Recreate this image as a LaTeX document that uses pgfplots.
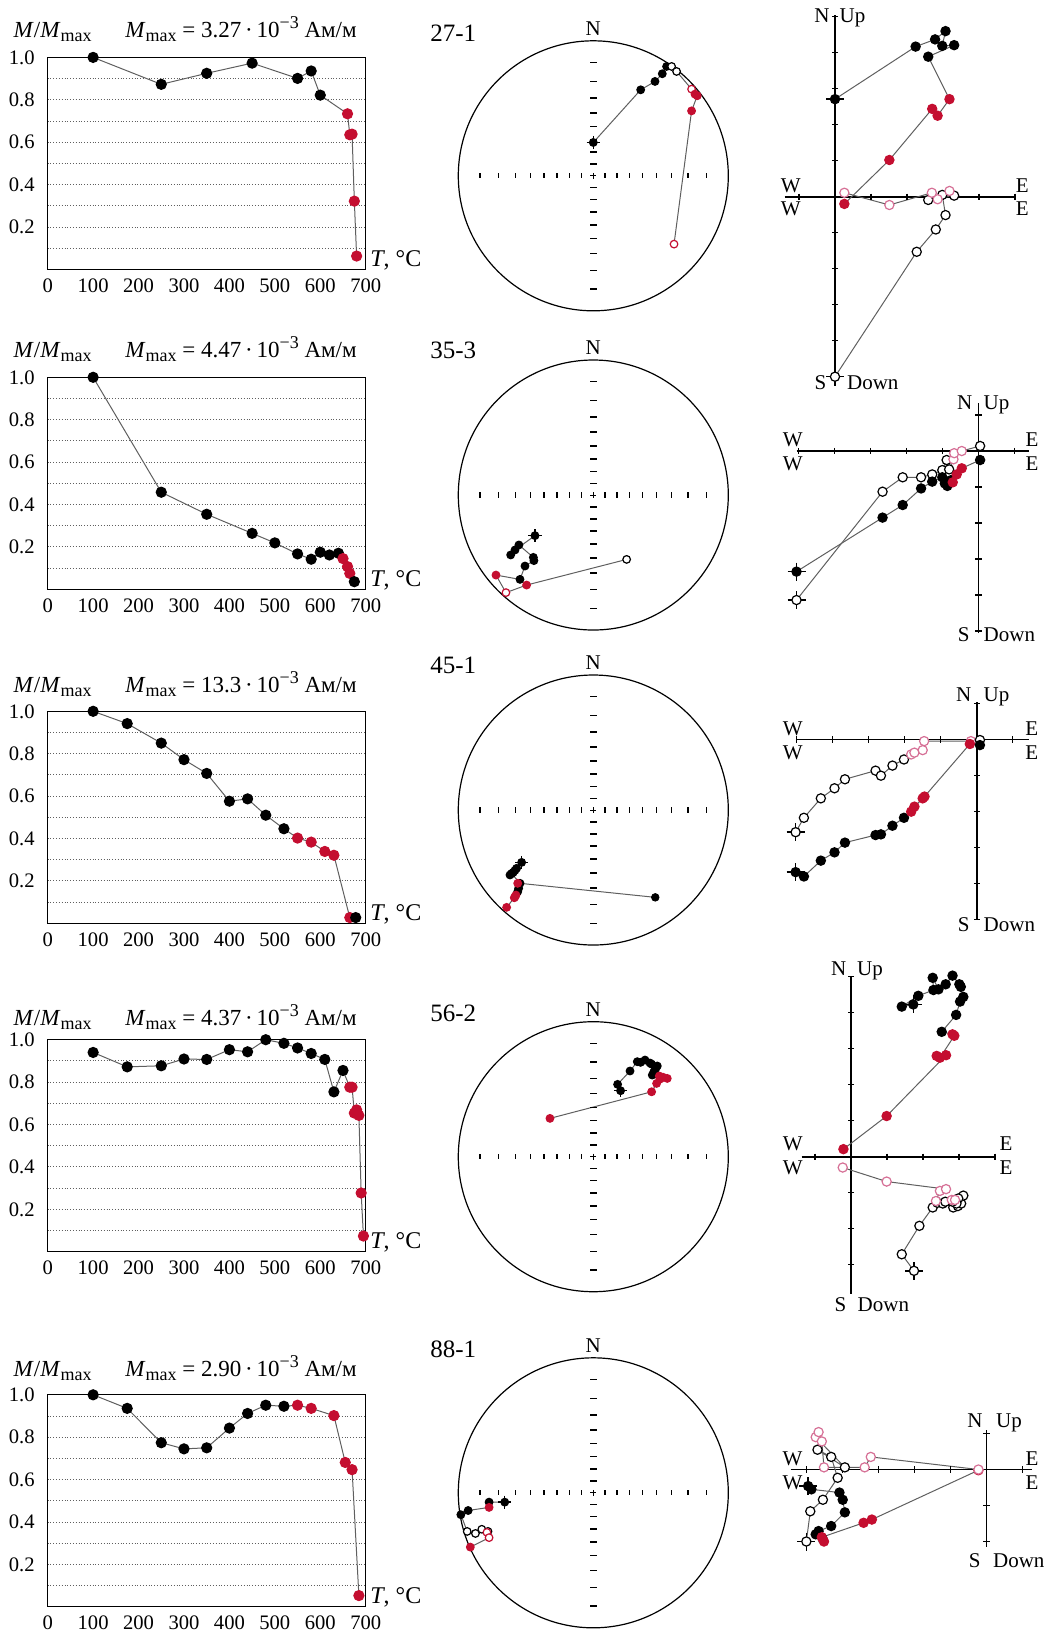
\documentclass[border=0pt]{standalone}
\usepackage{fontspec}
\setmainfont{Liberation Serif}
\usepackage{pgfplots}
\pgfplotsset{compat=1.18}

\definecolor{rd}{RGB}{196,14,48}
\definecolor{pk}{RGB}{214,112,150}
\definecolor{ln}{RGB}{95,95,95}
\newcommand\fz[1]{\fontsize{#1}{#1}\selectfont}
\newcommand\Mmax{\textit{M}\raisebox{-2pt}{\fz{9}max}}

\pgfplotsset{
  pts/.style={color=ln, line width=0.5pt, scatter, mark=*, scatter src=explicit symbolic,
    mark options={line width=0.6pt},
    scatter/classes={
      b={draw=black,fill=black},
      r={draw=rd,fill=rd},
      o={draw=black,fill=white},
      p={draw=pk,fill=white},
      q={draw=rd,fill=white}}},
  cross/.style={only marks, black, mark=+, mark size=#1, mark options={line width=0.7pt}},
  tk/.style={only marks, black, mark=#1, mark size=1.6pt, mark options={line width=0.6pt}},
  demag/.style={anchor=south west, scale only axis, width=159pt, height=106pt,
    xmin=0, xmax=700, ymin=0, ymax=1, clip=false,
    xtick={0,100,...,700}, ytick={0.2,0.4,0.6,0.8,1.0}, minor ytick={0.1,0.3,0.5,0.7,0.9},
    ymajorgrids, yminorgrids,
    major grid style={densely dotted, ln, line width=0.5pt},
    minor grid style={densely dotted, ln, line width=0.5pt},
    major tick length=0pt, minor tick length=0pt,
    axis line style={line width=0.6pt},
    /pgf/number format/assume math mode=true,
    tick label style={font=\fz{10.3}},
    yticklabel style={/pgf/number format/fixed, /pgf/number format/fixed zerofill,
      /pgf/number format/precision=1, xshift=-3pt},
    xticklabel style={yshift=-1pt},
    every axis plot/.append style={mark size=2.5pt}},
  net/.style={anchor=south west, scale only axis, width=135pt, height=135pt,
    xmin=-1, xmax=1, ymin=-1, ymax=1, hide axis, clip=false,
    every axis plot/.append style={mark size=1.9pt}},
  zij/.style={anchor=south west, scale only axis, hide axis, clip=false,
    every axis plot/.append style={mark size=2.3pt}},
}

% stereographic net: circle, 10-degree ticks on both diameters
\newcommand\netframe{%
  \draw[line width=0.6pt] (axis cs:0,0) circle[radius=67.5pt];
  \addplot[only marks, black, mark=|, mark size=1.3pt, mark options={line width=0.7pt}] coordinates {
    (-0.8391,0)(-0.7002,0)(-0.5774,0)(-0.4663,0)(-0.3640,0)(-0.2679,0)(-0.1763,0)(-0.0875,0)
    (0.0875,0)(0.1763,0)(0.2679,0)(0.3640,0)(0.4663,0)(0.5774,0)(0.7002,0)(0.8391,0)};
  \addplot[only marks, black, mark=-, mark size=1.7pt, mark options={line width=0.7pt}] coordinates {
    (0,-0.8391)(0,-0.7002)(0,-0.5774)(0,-0.4663)(0,-0.3640)(0,-0.2679)(0,-0.1763)(0,-0.0875)
    (0,0.0875)(0,0.1763)(0,0.2679)(0,0.3640)(0,0.4663)(0,0.5774)(0,0.7002)(0,0.8391)};
  \addplot[only marks, black, mark=+, mark size=1.5pt, mark options={line width=0.5pt}] coordinates {(0,0)};
}
\tikzset{axln/.style={line width=0.8pt, black}}

\begin{document}
\begin{tikzpicture}
\path[use as bounding box] (0,0) rectangle (525pt,-817.5pt);

%================ 27-1 ================
\begin{axis}[demag, at={(23.85pt,-134.7pt)}]
\addplot[pts] table[meta=c, row sep=\\] {
x y c\\ 100 1.000 b\\ 250 0.873 b\\ 350 0.925 b\\ 450 0.973 b\\ 550 0.901 b\\ 580 0.936 b\\
600 0.822 b\\ 660 0.734 r\\ 665 0.635 r\\ 670 0.638 r\\ 675 0.322 r\\ 680 0.063 r\\};
\end{axis}

\begin{axis}[net, at={(229.15pt,-155.4pt)}]
\netframe
\addplot[cross=3.3pt] coordinates {(0,0.247)};
\addplot[pts] table[meta=c, row sep=\\] {
x y c\\ 0 0.247 b\\ 0.351 0.637 b\\ 0.457 0.699 b\\ 0.511 0.756 b\\ 0.543 0.810 b\\
0.580 0.810 o\\ 0.617 0.773 o\\ 0.728 0.642 q\\ 0.753 0.605 r\\ 0.770 0.593 r\\
0.728 0.481 r\\ 0.598 -0.506 q\\};
\end{axis}

\begin{axis}[zij, at={(392.3pt,-188.35pt)}, xmin=-1.4, xmax=5, ymin=-5, ymax=5.05,
  width=115.2pt, height=180.9pt]
\draw[axln] (axis cs:-1.4,0) -- (axis cs:5,0);
\draw[axln] (axis cs:0,-5) -- (axis cs:0,5.05);
\addplot[tk=|] coordinates {(-1,0)(1,0)(2,0)(3,0)(4,0)(5,0)};
\addplot[tk=-] coordinates {(0,-5)(0,-4)(0,-3)(0,-2)(0,-1)(0,1)(0,2)(0,3)(0,4)(0,5)};
\addplot[cross=4.5pt] coordinates {(0,2.71)};
\addplot[cross=4.5pt] coordinates {(0,-5)};
\addplot[pts] table[meta=c, row sep=\\] {
x y c\\ 0 -5 o\\ 2.27 -1.53 o\\ 2.80 -0.91 o\\ 3.07 -0.51 o\\ 2.98 0.05 o\\ 3.31 0.03 o\\
2.59 -0.09 o\\ 3.18 0.16 p\\ 2.85 -0.07 p\\ 2.69 0.11 p\\ 1.51 -0.23 p\\ 0.26 0.11 p\\};
\addplot[pts] table[meta=c, row sep=\\] {
x y c\\ 0 2.71 b\\ 2.24 4.17 b\\ 2.78 4.37 b\\ 3.07 4.60 b\\ 2.98 4.19 b\\ 3.31 4.21 b\\
2.59 3.89 b\\ 3.18 2.71 r\\ 2.85 2.25 r\\ 2.70 2.44 r\\ 1.51 1.02 r\\ 0.26 -0.20 r\\};
\end{axis}

%================ 35-3 ================
\begin{axis}[demag, at={(23.85pt,-294.65pt)}]
\addplot[pts] table[meta=c, row sep=\\] {
x y c\\ 100 1.000 b\\ 250 0.458 b\\ 350 0.354 b\\ 450 0.264 b\\ 500 0.219 b\\ 550 0.167 b\\
580 0.142 b\\ 600 0.175 b\\ 620 0.162 b\\ 640 0.170 b\\ 650 0.145 r\\ 660 0.107 r\\
665 0.075 r\\ 675 0.036 b\\};
\end{axis}

\begin{axis}[net, at={(229.15pt,-315pt)}]
\netframe
\addplot[cross=3.3pt] coordinates {(-0.432,-0.301)};
\addplot[pts] table[meta=c, row sep=\\] {
x y c\\ -0.432 -0.301 b\\ -0.580 -0.407 b\\ -0.612 -0.444 b\\ -0.551 -0.370 b\\
-0.444 -0.462 b\\ -0.440 -0.486 b\\ -0.506 -0.526 b\\ -0.543 -0.625 b\\
-0.721 -0.593 r\\ -0.647 -0.723 q\\ -0.494 -0.667 r\\ 0.247 -0.477 o\\};
\end{axis}

\begin{axis}[zij, at={(398.25pt,-316.58pt)}, xmin=-5.05, xmax=1.4, ymin=-5.06, ymax=1.32,
  width=116.1pt, height=114.84pt]
\draw[axln] (axis cs:-5.05,0) -- (axis cs:1.4,0);
\draw[axln] (axis cs:0,-5.06) -- (axis cs:0,1.32);
\addplot[tk=|] coordinates {(-5,0)(-4,0)(-3,0)(-2,0)(-1,0)(1,0)};
\addplot[tk=-] coordinates {(0,-5)(0,-4)(0,-3)(0,-2)(0,-1)(0,1)};
\addplot[cross=4.5pt] coordinates {(-5.05,-3.35)};
\addplot[cross=4.5pt] coordinates {(-5.05,-4.14)};
\addplot[pts] table[meta=c, row sep=\\] {
x y c\\ -5.05 -4.14 o\\ -2.66 -1.13 o\\ -2.10 -0.73 o\\ -1.59 -0.73 o\\ -1.28 -0.65 o\\
-1.00 -0.53 o\\ -0.88 -0.25 o\\ -0.81 -0.51 o\\ -0.69 -0.23 p\\ -0.67 -0.06 p\\
-0.46 0.00 p\\ 0.05 0.14 o\\};
\addplot[pts] table[meta=c, row sep=\\] {
x y c\\ -5.05 -3.35 b\\ -2.66 -1.85 b\\ -2.10 -1.50 b\\ -1.59 -1.04 b\\ -1.28 -0.85 b\\
-1.00 -0.73 b\\ -0.93 -0.90 b\\ -0.86 -0.97 b\\ -0.76 -0.81 b\\ -0.71 -0.87 r\\
-0.60 -0.65 r\\ -0.46 -0.48 r\\ 0.05 -0.25 b\\};
\end{axis}

%================ 45-1 ================
\begin{axis}[demag, at={(23.85pt,-461.65pt)}]
\addplot[pts] table[meta=c, row sep=\\] {
x y c\\ 100 1.000 b\\ 175 0.942 b\\ 250 0.850 b\\ 300 0.772 b\\ 350 0.707 b\\ 400 0.576 b\\
440 0.587 b\\ 480 0.510 b\\ 520 0.446 b\\ 550 0.402 r\\ 580 0.383 r\\ 610 0.339 r\\
630 0.321 r\\ 665 0.027 r\\ 678 0.027 b\\};
\end{axis}

\begin{axis}[net, at={(229.15pt,-472.5pt)}]
\netframe
\addplot[color=ln, line width=0.5pt] coordinates {(-0.543,-0.543)(0.459,-0.647)};
\addplot[cross=3.3pt] coordinates {(-0.531,-0.388)};
\addplot[pts] table[meta=c, row sep=\\] {
x y c\\ -0.531 -0.388 b\\ -0.568 -0.432 b\\ -0.580 -0.447 b\\ -0.593 -0.462 b\\
-0.617 -0.481 b\\ -0.605 -0.470 b\\ -0.543 -0.543 b\\ -0.553 -0.580 b\\ -0.560 -0.605 b\\
-0.560 -0.543 r\\ -0.573 -0.630 r\\ -0.580 -0.642 r\\ -0.585 -0.650 r\\ -0.642 -0.721 r\\};
\addplot[only marks, mark=*, black, mark size=1.9pt] coordinates {(0.459,-0.647)};
\end{axis}

\begin{axis}[zij, at={(398.35pt,-459.65pt)}, xmin=-5, xmax=1.44, ymin=-5, ymax=1.05,
  width=115.92pt, height=108.9pt]
\draw[axln] (axis cs:-5,0) -- (axis cs:1.44,0);
\draw[axln] (axis cs:0,-5) -- (axis cs:0,1.05);
\addplot[tk=|] coordinates {(-5,0)(-4,0)(-3,0)(-2,0)(-1,0)(1,0)};
\addplot[tk=-] coordinates {(0,-5)(0,-4)(0,-3)(0,-2)(0,-1)(0,1)};
\addplot[cross=4.5pt] coordinates {(-5.03,-3.69)};
\addplot[cross=4.5pt] coordinates {(-5.03,-2.58)};
\addplot[pts] table[meta=c, row sep=\\] {
x y c\\ -5.03 -2.58 o\\ -4.80 -2.18 o\\ -4.33 -1.64 o\\ -3.95 -1.36 o\\ -3.66 -1.11 o\\
-2.81 -0.87 o\\ -2.66 -1.01 o\\ -2.34 -0.73 o\\ -2.02 -0.56 o\\ -1.82 -0.42 p\\
-1.73 -0.37 p\\ -1.50 -0.30 p\\ -1.46 -0.05 p\\ -0.16 -0.05 p\\ 0.09 -0.02 o\\};
\addplot[pts] table[meta=c, row sep=\\] {
x y c\\ -5.03 -3.69 b\\ -4.80 -3.81 b\\ -4.33 -3.37 b\\ -3.95 -3.14 b\\ -3.66 -2.87 b\\
-2.81 -2.66 b\\ -2.66 -2.64 b\\ -2.34 -2.40 b\\ -2.02 -2.18 b\\ -1.82 -2.01 r\\
-1.73 -1.87 r\\ -1.50 -1.64 r\\ -1.45 -1.59 r\\ -0.19 -0.13 r\\ 0.09 -0.16 b\\};
\end{axis}

%================ 56-2 ================
\begin{axis}[demag, at={(23.85pt,-625.85pt)}]
\addplot[pts] table[meta=c, row sep=\\] {
x y c\\ 100 0.940 b\\ 175 0.872 b\\ 250 0.877 b\\ 300 0.909 b\\ 350 0.907 b\\ 400 0.953 b\\
440 0.943 b\\ 480 1.000 b\\ 520 0.983 b\\ 550 0.961 b\\ 580 0.935 b\\ 610 0.907 b\\
630 0.754 b\\ 650 0.855 b\\ 665 0.776 r\\ 670 0.776 r\\ 675 0.654 r\\ 680 0.669 r\\
685 0.643 r\\ 690 0.277 r\\ 695 0.074 r\\};
\end{axis}

\begin{axis}[net, at={(229.15pt,-645.85pt)}]
\netframe
\addplot[cross=3.3pt] coordinates {(0.202,0.489)};
\addplot[pts] table[meta=c, row sep=\\] {
x y c\\ 0.202 0.489 b\\ 0.180 0.536 b\\ 0.272 0.635 b\\ 0.326 0.704 b\\ 0.350 0.699 b\\
0.383 0.716 b\\ 0.420 0.694 b\\ 0.432 0.686 b\\ 0.474 0.672 b\\ 0.464 0.659 b\\
0.457 0.642 b\\ 0.447 0.625 b\\ 0.437 0.605 b\\ 0.445 0.612 b\\ 0.489 0.598 r\\
0.519 0.588 r\\ 0.548 0.580 r\\ 0.494 0.575 r\\ 0.469 0.543 r\\ 0.432 0.481 r\\
-0.321 0.284 r\\};
\end{axis}

\begin{axis}[zij, at={(400.84pt,-646.75pt)}, xmin=-1.37, xmax=4, ymin=-3.8, ymax=5.02,
  width=96.66pt, height=158.76pt]
\draw[axln] (axis cs:-1.37,0) -- (axis cs:4,0);
\draw[axln] (axis cs:0,-3.8) -- (axis cs:0,5.02);
\addplot[tk=|] coordinates {(-1,0)(1,0)(2,0)(3,0)(4,0)};
\addplot[tk=-] coordinates {(0,-3)(0,-2)(0,-1)(0,1)(0,2)(0,3)(0,4)(0,5)};
\addplot[cross=4.5pt] coordinates {(1.73,4.23)};
\addplot[cross=4.5pt] coordinates {(1.75,-3.17)};
\addplot[pts] table[meta=c, row sep=\\] {
x y c\\ 1.75 -3.17 o\\ 1.41 -2.71 o\\ 1.90 -1.92 o\\ 2.27 -1.41 o\\ 2.40 -1.28 o\\
2.55 -1.30 o\\ 2.84 -1.41 o\\ 2.97 -1.37 o\\ 3.06 -1.30 o\\ 3.12 -1.08 o\\
2.98 -1.16 o\\ 2.93 -1.30 o\\ 2.82 -1.25 o\\ 2.62 -1.25 o\\ 2.80 -1.20 p\\
2.89 -1.20 p\\ 2.36 -1.23 p\\ 2.47 -0.95 p\\ 2.64 -0.90 p\\ 0.99 -0.69 p\\ -0.23 -0.30 p\\};
\addplot[pts] table[meta=c, row sep=\\] {
x y c\\ 1.73 4.23 b\\ 1.41 4.17 b\\ 1.87 4.47 b\\ 2.29 4.63 b\\ 2.27 4.97 b\\ 2.43 4.65 b\\
2.63 4.79 b\\ 2.82 5.03 b\\ 3.01 4.79 b\\ 3.05 4.72 b\\ 3.12 4.44 b\\ 3.03 4.31 b\\
2.92 3.94 b\\ 2.52 3.47 b\\ 2.82 3.40 r\\ 2.87 3.36 r\\ 2.47 2.75 r\\ 2.38 2.80 r\\
2.64 2.82 r\\ 0.99 1.13 r\\ -0.21 0.21 r\\};
\end{axis}

%================ 88-1 ================
\begin{axis}[demag, at={(23.85pt,-803.4pt)}]
\addplot[pts] table[meta=c, row sep=\\] {
x y c\\ 100 1.000 b\\ 175 0.936 b\\ 250 0.774 b\\ 300 0.745 b\\ 350 0.750 b\\ 400 0.843 b\\
440 0.912 b\\ 480 0.951 b\\ 520 0.946 b\\ 550 0.951 r\\ 580 0.936 r\\ 630 0.902 r\\
655 0.681 r\\ 670 0.647 r\\ 685 0.053 r\\};
\end{axis}

\begin{axis}[net, at={(229.15pt,-813.9pt)}]
\netframe
\addplot[cross=3.3pt] coordinates {(-0.656,-0.069)};
\addplot[pts] table[meta=c, row sep=\\] {
x y c\\ -0.656 -0.069 b\\ -0.772 -0.069 b\\ -0.772 -0.108 r\\ -0.927 -0.131 b\\
-0.981 -0.162 b\\ -0.934 -0.286 o\\ -0.873 -0.301 o\\ -0.826 -0.270 o\\ -0.780 -0.286 o\\
-0.788 -0.293 q\\ -0.772 -0.332 q\\ -0.911 -0.402 r\\};
\end{axis}

\begin{axis}[zij, at={(395.25pt,-773.45pt)}, xmin=-5.45, xmax=1.25, ymin=-2.15, ymax=1.1,
  width=120.6pt, height=58.5pt]
\draw[axln] (axis cs:-5.45,0) -- (axis cs:1.25,0);
\draw[axln] (axis cs:0,-2.15) -- (axis cs:0,1.1);
\addplot[tk=|] coordinates {(-5,0)(-4,0)(-3,0)(-2,0)(-1,0)(1,0)};
\addplot[tk=-] coordinates {(0,-2)(0,-1)(0,1)};
\addplot[cross=4.5pt] coordinates {(-4.96,-0.46)};
\addplot[cross=4.5pt] coordinates {(-5.01,-2.00)};
\addplot[pts] table[meta=c, row sep=\\] {
x y c\\ -4.96 -0.46 b\\ -4.87 -0.55 b\\ -4.09 -0.64 b\\ -4.00 -0.84 b\\ -3.94 -1.19 b\\
-4.32 -1.57 b\\ -4.67 -1.71 b\\ -4.55 -1.94 b\\ -4.75 -1.80 b\\ -4.52 -2.00 r\\
-4.58 -1.88 r\\ -3.42 -1.48 r\\ -3.19 -1.39 r\\ -0.23 -0.02 r\\};
\addplot[pts] table[meta=c, row sep=\\] {
x y c\\ -5.01 -2.00 o\\ -4.90 -1.16 o\\ -4.55 -0.84 o\\ -4.14 -0.23 o\\ -4.32 0.35 o\\
-4.70 0.55 o\\ -3.94 0.06 o\\ -4.75 0.90 p\\ -4.67 1.04 p\\ -4.58 0.78 p\\ -4.52 0.06 p\\
-3.39 0.06 p\\ -3.22 0.35 p\\ -0.23 0.00 p\\};
\end{axis}

%================ text ================
\begin{scope}[x=0.5pt, y=-0.5pt, every node/.style={inner sep=0pt}]
% demagnetization curve headings
\foreach \yb/\val in {37.5/3.27, 357.3/4.47, 692.7/13.3, 1025.5/4.37, 1376.4/2.90}{
  \node[anchor=base west] at (13.3,\yb) {\fz{11.5}\textit{M}/\Mmax};
  \node[anchor=base west] at (125,\yb) {\fz{11.5}\Mmax\ = \val\,·\,10\raisebox{4.5pt}{\fz{9}−3} Ам/м};
}
\foreach \yb in {266.4, 586.3, 920.3, 1248.7, 1603.8}{
  \node[anchor=base west] at (370,\yb) {\fz{12}\textit{T}, °C};
}
% sample numbers and north marks
\foreach \yl/\yn/\name in {41.7/35/27-1, 358.3/354.3/35-3, 673.3/669.3/45-1, 1021.7/1016/56-2, 1357.6/1352.4/88-1}{
  \node[anchor=base west] at (430,\yl) {\fz{12.5}\name};
  \node[anchor=base] at (593.3,\yn) {\fz{10.5}N};
}
% orthogonal projection labels
\foreach \xw/\xe/\ya/\yc/\xn/\xu/\yt/\xs/\xd/\ybt in {
  790.7/1022.3/192.7/215/830/839.3/22.7/826.7/846.7/389,
  792.7/1032/446/470/972.7/983.3/409.3/970/983.3/641.7,
  792.7/1031.7/735/759.3/971.7/983.3/701.7/970/983.3/931.7,
  792.7/1006/1150/1174/846.7/856.7/975/846.7/857.3/1311.7,
  792.5/1032/1465/1489/983/995.8/1427.5/981/992.7/1567}{
  \node[anchor=base] at (\xw,\ya) {\fz{10.5}W};
  \node[anchor=base] at (\xw,\yc) {\fz{10.5}W};
  \node[anchor=base] at (\xe,\ya) {\fz{10.5}E};
  \node[anchor=base] at (\xe,\yc) {\fz{10.5}E};
  \node[anchor=base east] at (\xn,\yt) {\fz{10.5}N};
  \node[anchor=base west] at (\xu,\yt) {\fz{10.5}Up};
  \node[anchor=base east] at (\xs,\ybt) {\fz{10.5}S};
  \node[anchor=base west] at (\xd,\ybt) {\fz{10.5}Down};
}
\end{scope}
\end{tikzpicture}
\end{document}
